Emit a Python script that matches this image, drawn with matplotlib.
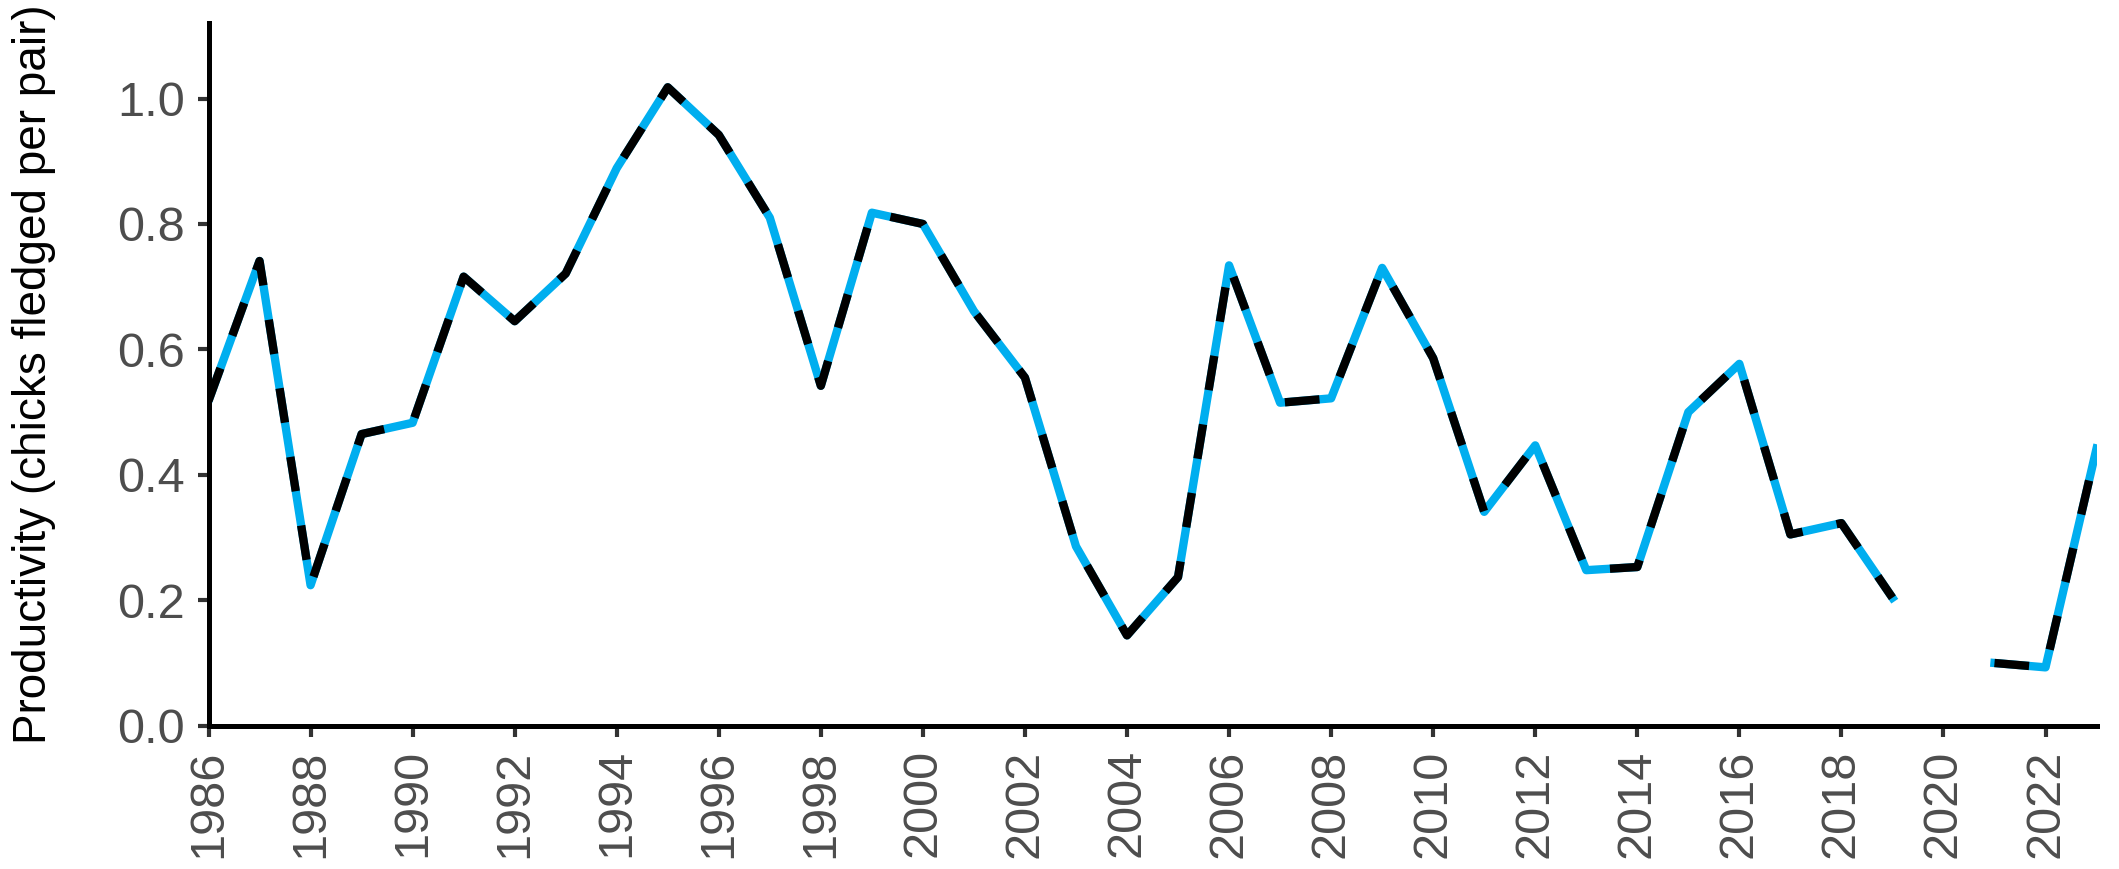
import numpy as np
import matplotlib
matplotlib.use("Agg")
import matplotlib.pyplot as plt

# data
years = list(range(1986, 2024))
productivity = [0.518, 0.741, 0.224, 0.465, 0.483, 0.716, 0.645, 0.721, 0.889, 1.018,
                0.942, 0.810, 0.542, 0.818, 0.800, 0.661, 0.555, 0.286, 0.144, 0.237,
                0.734, 0.515, 0.522, 0.730, 0.586, 0.341, 0.447, 0.248, 0.253, 0.500,
                0.577, 0.305, 0.323, 0.204, np.nan, 0.100, 0.093, 0.442]
xticks = list(range(1986, 2023, 2))
yticks = [0.0, 0.2, 0.4, 0.6, 0.8, 1.0]

plt.rcParams['font.family'] = ['Liberation Sans', 'DejaVu Sans']
plt.rcParams['lines.scale_dashes'] = False

fig = plt.figure(figsize=(21.19, 8.69), dpi=100)
ax = fig.add_axes([0.0984, 0.1649, 0.891, 0.8083])

# blue line underneath, black dashes on top
ax.plot(years, productivity, color='#00AEEF', lw=6.0, solid_joinstyle='round')
ax.plot(years, productivity, color='black', lw=6.0, dashes=(25, 25),
        dash_joinstyle='round')

ax.set_xlim(1986, 2023)
ax.set_ylim(0, 1.12)
ax.set_xticks(xticks)
ax.set_xticklabels([str(y) for y in xticks], rotation=90)
ax.set_yticks(yticks)
ax.set_yticklabels(['%.1f' % v for v in yticks])

ax.tick_params(axis='both', labelsize=35, labelcolor='#4D4D4D', color='#333333',
               length=8, width=3, pad=9)
ax.set_ylabel('Productivity (chicks fledged per pair)', fontsize=33, color='black')
ax.yaxis.set_label_coords(-0.081, 0.5)

for s in ['top', 'right']:
    ax.spines[s].set_visible(False)
for s in ['left', 'bottom']:
    ax.spines[s].set_linewidth(3.6)
    ax.spines[s].set_color('black')

fig.savefig('out.png', dpi=100)
